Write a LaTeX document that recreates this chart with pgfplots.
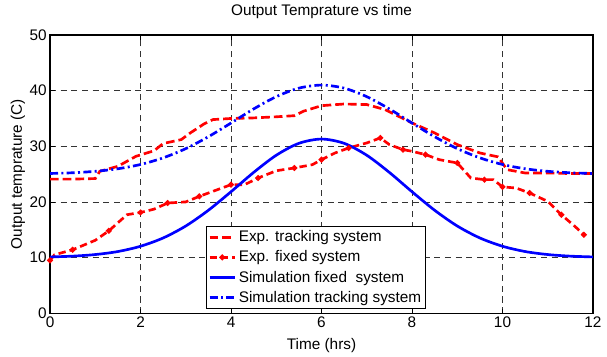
\documentclass[border=0pt]{standalone}
\usepackage{fontspec}
\setmainfont{Liberation Sans}
\usepackage{pgfplots}
\pgfplotsset{compat=1.18}

\definecolor{mred}{RGB}{255,0,0}
\definecolor{mblue}{RGB}{0,0,255}

\begin{document}
\begin{tikzpicture}
\begin{axis}[
  name=ax,
  scale only axis,
  width=407pt, height=208.5pt,
  xmin=0, xmax=12, ymin=0, ymax=50,
  xtick={0,2,...,12}, ytick={0,10,...,50},
  grid=major,
  major grid style={black!80, line width=0.6pt, dash pattern=on 4.5pt off 3.5pt},
  tick align=inside,
  tick style={black, line width=0.6pt},
  major tick length=3.5pt,
  axis line style={black, line width=0.8pt},
  /pgf/number format/assume math mode=true,
  ticklabel style={font=\fontsize{11.5}{13}\selectfont},
  xticklabel style={yshift=1pt},
  yticklabel style={xshift=1pt},
  title={Output Temprature vs time},
  every axis title shift=0pt,
  title style={font=\fontsize{11.5}{13}\selectfont, at={(axis description cs:0.5,1.083)}, anchor=center},
  xlabel={Time (hrs)},
  ylabel={Output temprature (C)},
  label style={font=\fontsize{11.5}{13}\selectfont},
  xlabel style={at={(axis description cs:0.5,-0.115)}, anchor=center},
  ylabel style={at={(axis description cs:-0.059,0.5)}, anchor=center},
  legend style={at={(0.287,0.014)}, anchor=south west, draw=black, line width=0.8pt,
    font=\fontsize{11.5}{13}\selectfont, inner sep=1.5pt, row sep=1.2pt,
    cells={anchor=west}},
  legend cell align=left,
  legend image code/.code={\draw[mark repeat=2, mark phase=2, #1, line width=2pt]
    plot coordinates {(0cm,0cm) (0.33cm,0cm) (0.66cm,0cm)};},
  every axis plot/.append style={line width=2pt},
]
% Experimental, tracking collector
\addplot[mred, dash pattern=on 6.5pt off 3pt] coordinates {
 (0,24.1) (0.5,24.1) (1,24.2) (1.1,25.5) (1.5,26.4) (1.9,28.2) (2.3,29.2)
 (2.5,30.5) (2.9,31.2) (3.1,32.4) (3.4,34.0) (3.6,34.8) (4,35.0) (4.5,35.1)
 (5,35.3) (5.4,35.5) (5.6,36.3) (6,37.3) (6.5,37.6) (7,37.5) (7.4,36.6)
 (8,34.2) (8.5,32.4) (9,30.3) (9.5,28.8) (9.9,28.1) (10.1,25.8) (10.5,25.2)
 (11,25.2) (11.5,25.1) (12,25.1)};
\addlegendentry{Exp. tracking system}
% Experimental, fixed collector
\addplot[mred, dash pattern=on 5.5pt off 3pt, mark=*, mark size=1pt,
  mark options={solid}, mark repeat=2] coordinates {
 (0,9.5) (0.1,10.5) (0.5,11.4) (1,13.1) (1.3,14.8) (1.7,17.7) (2,18.1)
 (2.3,18.7) (2.6,19.8) (3,20.0) (3.3,21.0) (3.6,21.9) (4,23.1) (4.3,23.1)
 (4.6,24.3) (5,25.6) (5.4,26.1) (5.8,26.7) (6,27.6) (6.3,28.8) (6.6,29.7)
 (7,30.6) (7.3,31.5) (7.5,30.3) (7.8,29.4) (8,29.1) (8.3,28.5) (8.6,27.6)
 (9,27.0) (9.3,24.3) (9.6,24.0) (9.8,24.0) (10,22.7) (10.3,22.5) (10.6,21.6)
 (11,20.1) (11.3,17.7) (11.6,15.6) (11.8,14.1)};
\addlegendentry{Exp. fixed system}
% Simulated, fixed collector
\addplot[mblue, smooth] coordinates {
 (0,10.11) (0.5,10.25) (1,10.54) (1.5,11.08) (2,12.03) (2.5,13.52) (3,15.67)
 (3.5,18.50) (4,21.83) (4.5,25.30) (5,28.39) (5.5,30.53) (6,31.30)
 (6.5,30.53) (7,28.39) (7.5,25.30) (8,21.83) (8.5,18.50) (9,15.67)
 (9.5,13.52) (10,12.03) (10.5,11.08) (11,10.54) (11.5,10.25) (12,10.11)};
\addlegendentry{Simulation fixed\ \ system}
% Simulated, tracking collector
\addplot[mblue, smooth, dash pattern=on 6pt off 2.5pt on 1.5pt off 2.5pt] coordinates {
 (0,25.11) (0.5,25.24) (1,25.50) (1.5,25.96) (2,26.73) (2.5,27.92) (3,29.58)
 (3.5,31.72) (4,34.18) (4.5,36.71) (5,38.92) (5.5,40.45) (6,41.00)
 (6.5,40.45) (7,38.92) (7.5,36.71) (8,34.18) (8.5,31.72) (9,29.58)
 (9.5,27.92) (10,26.73) (10.5,25.96) (11,25.50) (11.5,25.24) (12,25.11)};
\addlegendentry{Simulation tracking system}
\end{axis}
% page margins around the axis box
\path ([shift={(-37.5pt,-32.25pt)}]ax.south west) rectangle ([shift={(10.5pt,26.25pt)}]ax.north east);
\end{tikzpicture}
\end{document}
